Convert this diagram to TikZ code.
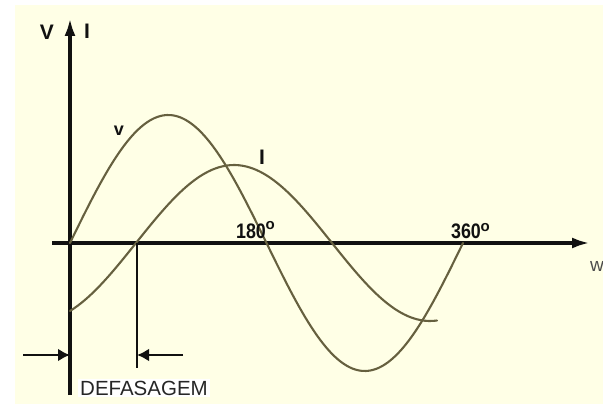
\documentclass[tikz,border=0pt]{standalone}
\usepackage{fontspec}
\setmainfont{Liberation Sans}
\usepackage{xcolor}
\usetikzlibrary{arrows.meta,positioning}
\definecolor{paper}{HTML}{FFFFE6}
\definecolor{wavec}{HTML}{66603F}
\definecolor{inkc}{HTML}{111111}
\tikzset{
  axisln/.style={line width=3.8pt,inkc,-{Latex[length=18pt,width=11pt]}},
  wave/.style={line width=2.1pt,wavec,line cap=round},
  dimar/.style={line width=2.8pt,inkc,-{Latex[length=12pt,width=13pt]}},
  lbl/.style={font=\fontsize{21}{21}\bfseries,inner sep=1pt,inkc},
  deg/.style={font=\fontsize{15}{15}\bfseries,inner sep=0pt,inkc}
}
\begin{document}
\begin{tikzpicture}[x=1pt,y=-1pt]
\useasboundingbox (0,0) rectangle (603,404);
\fill[white] (0,0) rectangle (603,404);
\fill[paper] (15,5) rectangle (603,404);
% axes
\coordinate (orig) at (70,243);
\coordinate (ybot) at (70,395);
\coordinate (ytop) at (70,18);
\coordinate (xbeg) at (52,243);
\coordinate (xend) at (590,243);
\draw[axisln] (ybot) -- (ytop);
\draw[axisln] (xbeg) -- (xend);
% waves
\draw[wave] plot[domain=70:463,samples=90,smooth] (\x,{243-128*sin((\x-70)/393*360)});
\draw[wave] plot[domain=70:437,samples=90,smooth] (\x,{243-78*sin((\x-136)/392*360)});
% labels
\node[lbl] (vax) at (47,32) {V};
\node[lbl] (iax) at (87,31) {I};
\node[lbl,font=\fontsize{18}{18}\bfseries] (vw) at (119,131) {v};
\node[lbl] (iw) at (262,157) {I};
\node[lbl,font=\fontsize{21}{21}\bfseries\addfontfeatures{FakeStretch=0.85}] (d180) at (251,231) {180};
\node[deg] at ([xshift=3pt,yshift=-3pt]d180.north east) {o};
\node[lbl,font=\fontsize{21}{21}\bfseries\addfontfeatures{FakeStretch=0.85}] (d360) at (466,231) {360};
\node[deg] at ([xshift=3pt,yshift=-5pt]d360.north east) {o};
\node[font=\fontsize{19}{19}\selectfont,text=black!70] (wlab) at (597,266) {w};
% phase shift
\coordinate (izero) at (137,243);
\coordinate (ishift) at (137,368);
\draw[line width=1.8pt,inkc] (izero) -- (ishift);
\coordinate (lstart) at (23,355);
\coordinate (lend) at (70,355);
\coordinate (rstart) at (183,355);
\coordinate (rend) at (137,355);
\draw[dimar] (lstart) -- (lend);
\draw[dimar] (rstart) -- (rend);
\node[fill=white,font=\fontsize{20.5}{20.5}\selectfont,inner sep=2pt,anchor=west,text=black!85] (defas) at (78,388) {DEFASAGEM};
\end{tikzpicture}
\end{document}
